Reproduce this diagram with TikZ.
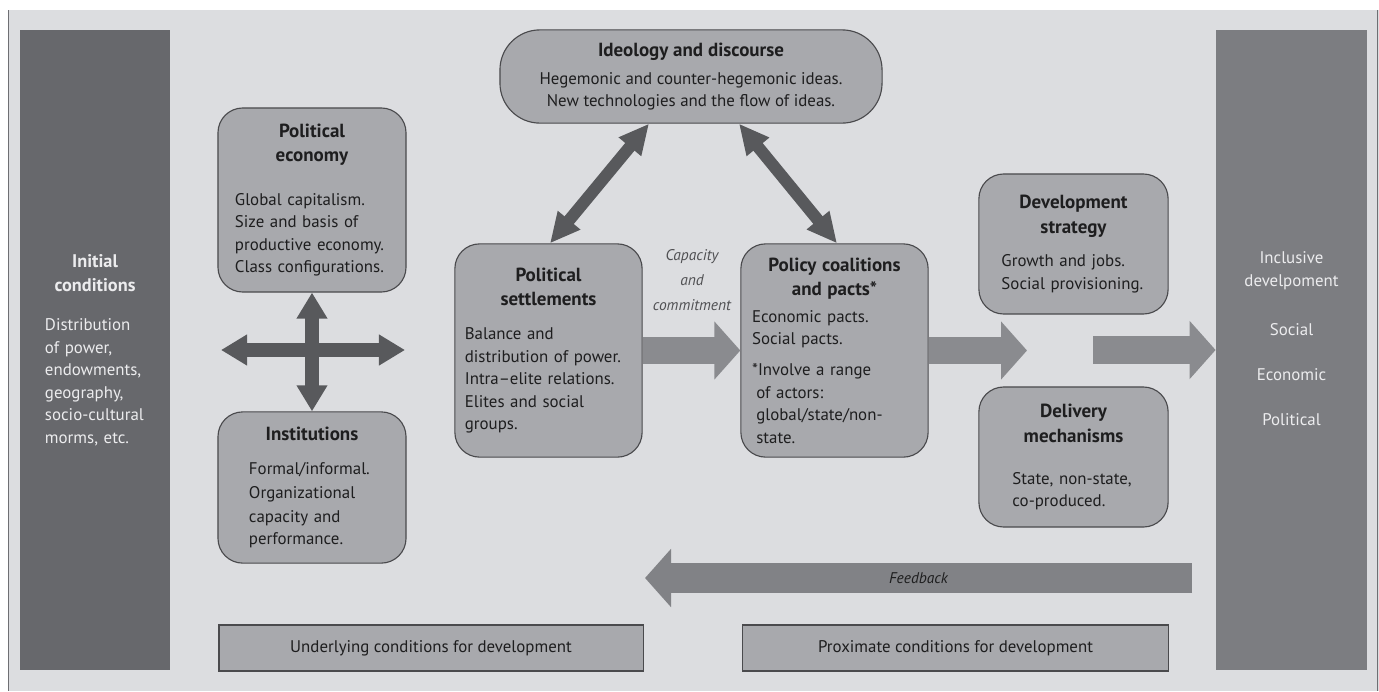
\documentclass[tikz,border=0pt]{standalone}
\usepackage{fontspec}
\setmainfont{PT Sans}
\usepackage{xcolor}
\usetikzlibrary{shapes,arrows.meta,positioning,calc}

\definecolor{paper}{HTML}{DCDDE0}
\definecolor{edgegray}{HTML}{6E6F73}
\definecolor{leftbar}{HTML}{67686C}
\definecolor{rightbar}{HTML}{7C7D81}
\definecolor{boxfill}{HTML}{A8A9AD}
\definecolor{boxline}{HTML}{4A4A4D}
\definecolor{darkarrow}{HTML}{58595C}
\definecolor{flowgray}{HTML}{8A8B8F}
\definecolor{feedgray}{HTML}{818286}
\definecolor{ink}{HTML}{1E1E1F}
\definecolor{barink}{HTML}{ECECEE}
\definecolor{capgray}{HTML}{505053}

\newcommand{\boxtitle}[1]{{\centering\fontsize{13.5}{17.5}\selectfont\bfseries #1\par}}

\begin{document}
\begin{tikzpicture}[x=0.025cm, y=-0.025cm]
  \tikzstyle{box}=[rounded corners=0.62cm, draw=boxline, line width=0.8pt, fill=boxfill, text=ink, font=\fontsize{12}{16}\selectfont, align=left, inner sep=0pt]
  \tikzstyle{bar}=[text=barink, font=\fontsize{12}{16}\selectfont, inner sep=0pt]
  \tikzstyle{band}=[draw=boxline, line width=0.8pt, fill=boxfill, text=ink, font=\fontsize{12}{16}\selectfont, inner sep=0pt]
  \tikzstyle{twoway}=[{Triangle[width=0.68cm, length=0.75cm]}-{Triangle[width=0.68cm, length=0.75cm]}, line width=0.3cm, darkarrow]
  \tikzstyle{cross}=[{Triangle[width=0.73cm, length=0.65cm]}-{Triangle[width=0.73cm, length=0.65cm]}, line width=0.34cm, darkarrow]
  \tikzstyle{flow}=[-{Triangle[width=1.42cm, length=0.65cm]}, line width=0.68cm, flowgray]

  % page and frame
  \useasboundingbox (0,0) rectangle (1379,691);
  \fill[white] (0,0) rectangle (1379,691);
  \fill[paper] (8,10) rectangle (1379,691);
  \draw[edgegray, line width=1pt] (8.5,10) -- (8.5,691);
  \draw[edgegray, line width=1pt] (1377.5,10) -- (1377.5,691);

  % side bars
  \node[bar, fill=leftbar, minimum width=3.75cm, minimum height=16cm, text width=2.5cm, align=left] (init) at (95,350)
    {{\centering\fontsize{13}{17}\selectfont\bfseries Initial\\conditions\par}\vspace{12pt}Distribution\\of power,\\endowments,\\geography,\\socio-cultural\\morms, etc.};
  \node[bar, fill=rightbar, minimum width=3.78cm, minimum height=16cm, align=center] (incl) at (1291.5,350)
    {Inclusive\\develpoment\\[19pt]Social\\[16pt]Economic\\[16pt]Political\\[0pt]};

  % underlying conditions
  \node[box, minimum width=4.7cm, minimum height=4.6cm, text width=3.85cm] (polecon) at (312,200)
    {\boxtitle{Political\\economy}\vspace{15pt}Global capitalism.\\Size and basis of\\productive economy.\\Class configurations.};
  \node[box, minimum width=4.7cm, minimum height=3.78cm, text width=3.15cm] (inst) at (312,487.5)
    {\boxtitle{Institutions}\vspace{7pt}\baselineskip=17pt Formal/informal.\\Organizational\\capacity and\\performance.};
  \node[box, rounded corners=1cm, minimum width=9.55cm, minimum height=2.33cm, align=center] (ideo) at (691,76.5)
    {{\fontsize{13.5}{17.5}\selectfont\bfseries Ideology and discourse}\\[4pt]Hegemonic and counter-hegemonic ideas.\\New technologies and the flow of ideas.};
  \node[box, minimum width=4.68cm, minimum height=5.33cm, text width=4.18cm] (polset) at (548.5,350.5)
    {\boxtitle{Political\\settlements}\vspace{8pt}Balance and\\distribution of power.\\Intra--elite relations.\\Elites and social\\groups.};

  % proximate conditions
  \node[box, minimum width=4.68cm, minimum height=5.33cm, text width=4.12cm] (pacts) at (834.5,350.5)
    {\boxtitle{Policy coalitions\\and pacts*}\vspace{3pt}Economic pacts.\\Social pacts.\\[6pt]*Involve a range\\\hspace*{3pt}of actors:\\\hspace*{3pt}global/state/non-\\\hspace*{3pt}state.};
  \node[box, minimum width=4.73cm, minimum height=3.5cm, text width=3.6cm] (devstrat) at (1073.5,244)
    {\boxtitle{Development\\strategy}\vspace{8pt}Growth and jobs.\\Social provisioning.};
  \node[box, minimum width=4.73cm, minimum height=3.5cm, text width=3.05cm] (deliv) at (1073.5,457)
    {\boxtitle{Delivery\\mechanisms}\vspace{14pt}State, non-state,\\co-produced.};

  % bottom bands
  \node[band, minimum width=10.6cm, minimum height=1.15cm] (under) at (431,648) {Underlying conditions for development};
  \node[band, minimum width=10.63cm, minimum height=1.15cm] (prox) at (955.5,648) {Proximate conditions for development};

  % cross of arrows
  \coordinate (crossL) at (221,350);
  \coordinate (crossR) at (405,350);
  \draw[cross] (crossL) -- (crossR);
  \draw[cross] (polecon.south) -- (inst.north);

  % ideas both ways
  \draw[twoway] ($(ideo.south)+(-42,0)$) -- ($(polset.north)+(1.5,0)$);
  \draw[twoway] ($(ideo.south)+(48,0)$) -- ($(pacts.north)+(2.5,0)$);

  % main flow
  \draw[flow] (polset.east) -- (pacts.west);
  \node[text=capgray, font=\fontsize{11}{17.5}\selectfont\itshape, align=center] (capcom) at (692,280) {Capacity\\and\\commitment};
  \coordinate (gapL) at (1027,350.5);
  \coordinate (gapR) at (1093,350);
  \draw[flow] (pacts.east) -- (gapL);
  \draw[flow] (gapR) -- (incl.west);

  % feedback
  \coordinate (fbstart) at (1192,578);
  \coordinate (fbend) at (645,578);
  \draw[flow, feedgray, line width=0.73cm] (fbstart) -- node[text=ink, font=\fontsize{11}{14}\selectfont\itshape] (fblabel) {Feedback} (fbend);
\end{tikzpicture}
\end{document}
